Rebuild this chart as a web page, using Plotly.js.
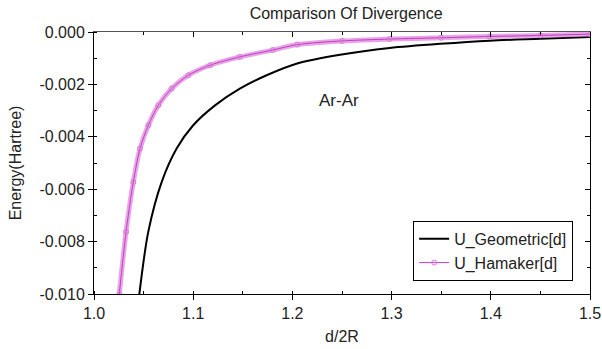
<!DOCTYPE html>
<html>
<head>
<meta charset="utf-8">
<script src="https://cdn.plot.ly/plotly-3.0.1.min.js"></script>
<style>html,body{margin:0;padding:0;background:#fff;}#chart{width:602px;height:349px;}</style>
</head>
<body>
<div id="chart"></div>
<script>
// Values
const geomX = [1.0457, 1.0547, 1.0682, 1.0833, 1.100, 1.122, 1.147, 1.174, 1.204, 1.248, 1.298, 1.349, 1.399, 1.450, 1.500];
const geomY = [-0.0100, -0.00763, -0.00573, -0.00445, -0.00356, -0.00280, -0.00216, -0.00165, -0.00121, -0.00087, -0.00061, -0.00045, -0.00033, -0.00026, -0.00019];

const hamX = [1.0255, 1.0323, 1.0396, 1.0464, 1.0548, 1.0648, 1.0783, 1.0951, 1.117, 1.147, 1.180, 1.205, 1.250, 1.298, 1.350, 1.399, 1.450, 1.500];
const hamY = [-0.0100, -0.00763, -0.00573, -0.00445, -0.00356, -0.00280, -0.00216, -0.00165, -0.00127, -0.00095, -0.00069, -0.00048, -0.00034, -0.00027, -0.00022, -0.00017, -0.00013, -0.00008];

const seriesNames = ['U_Geometric[d]', 'U_Hamaker[d]'];
const chartTitle = 'Comparison Of Divergence';
const xTitle = 'd/2R';
const yTitle = 'Energy(Hartree)';
const labelText = 'Ar-Ar';
const xTickVals = [1.0, 1.1, 1.2, 1.3, 1.4, 1.5];
const xTickText = ['1.0', '1.1', '1.2', '1.3', '1.4', '1.5'];
const yTickVals = [0, -0.002, -0.004, -0.006, -0.008, -0.010];
const yTickText = ['0.000', '-0.002', '-0.004', '-0.006', '-0.008', '-0.010'];
const xRange = [1.0, 1.5];
const yRange = [-0.010, 0.0];

const FONT = 'Arial, "Liberation Sans", sans-serif';
const TXT = '#222222';

const traces = [
  {
    x: geomX, y: geomY, name: seriesNames[0], type: 'scatter', mode: 'lines',
    line: {color: '#000000', width: 2, shape: 'spline', smoothing: 0.8}
  },
  {
    x: hamX, y: hamY, showlegend: false, hoverinfo: 'skip', type: 'scatter', mode: 'lines',
    line: {color: 'rgba(222,128,222,0.7)', width: 5, shape: 'spline', smoothing: 0.8}
  },
  {
    x: hamX, y: hamY, name: seriesNames[1], type: 'scatter', mode: 'lines+markers',
    line: {color: '#c03cc0', width: 1, shape: 'spline', smoothing: 0.8},
    marker: {symbol: 'circle-open', size: 5, color: '#d878d8', line: {width: 1}}
  },
  // empty trace so the mirrored top/right tick axes are drawn
  {x: [], y: [], xaxis: 'x2', yaxis: 'y2', type: 'scatter', mode: 'lines', showlegend: false, hoverinfo: 'skip'}
];

const baseAxis = {
  showgrid: false, zeroline: false, showline: true, linecolor: '#000', linewidth: 1,
  tickcolor: '#000', tickfont: {family: FONT, size: 16, color: TXT}
};

const layout = {
  width: 602, height: 349,
  margin: {l: 94, r: 12, t: 32, b: 55},
  paper_bgcolor: '#ffffff', plot_bgcolor: '#ffffff',
  font: {family: FONT, size: 16, color: TXT},
  title: {text: chartTitle, x: 0.575, xanchor: 'center', y: 0.963, yanchor: 'middle',
          font: {family: FONT, size: 16, color: TXT}},
  showlegend: true,
  legend: {
    x: 0.966, y: 0.05, xanchor: 'right', yanchor: 'bottom',
    bgcolor: '#ffffff', bordercolor: '#000000', borderwidth: 1,
    font: {family: FONT, size: 16, color: TXT},
    tracegroupgap: 0, itemwidth: 30
  },
  xaxis: Object.assign({}, baseAxis, {
    range: xRange, tickvals: xTickVals, ticktext: xTickText,
    ticks: 'outside', ticklen: 5,
    minor: {dtick: 0.05, ticks: 'inside', ticklen: 3, tickcolor: '#000', showgrid: false},
    title: {text: xTitle, font: {family: FONT, size: 16, color: TXT}, standoff: 9}
  }),
  yaxis: Object.assign({}, baseAxis, {
    range: yRange, tickvals: yTickVals, ticktext: yTickText,
    ticks: 'outside', ticklen: 5,
    minor: {dtick: 0.001, ticks: 'inside', ticklen: 3, tickcolor: '#000', showgrid: false},
    title: {text: yTitle, font: {family: FONT, size: 16, color: TXT}, standoff: 13}
  }),
  xaxis2: Object.assign({}, baseAxis, {
    overlaying: 'x', side: 'top', anchor: 'y2', range: xRange, tickvals: xTickVals,
    showticklabels: false, ticks: 'inside', ticklen: 5, linecolor: '#555',
    minor: {dtick: 0.05, ticks: 'inside', ticklen: 3, tickcolor: '#000', showgrid: false}
  }),
  yaxis2: Object.assign({}, baseAxis, {
    overlaying: 'y', side: 'right', anchor: 'x2', range: yRange, tickvals: yTickVals,
    showticklabels: false, ticks: 'inside', ticklen: 5,
    minor: {dtick: 0.001, ticks: 'inside', ticklen: 3, tickcolor: '#000', showgrid: false}
  }),
  annotations: [
    {x: 1.247, y: -0.0026, xref: 'x', yref: 'y', text: labelText, showarrow: false,
     font: {family: FONT, size: 17, color: TXT}}
  ]
};

Plotly.newPlot('chart', traces, layout, {displayModeBar: false, staticPlot: true});
</script>
</body>
</html>
